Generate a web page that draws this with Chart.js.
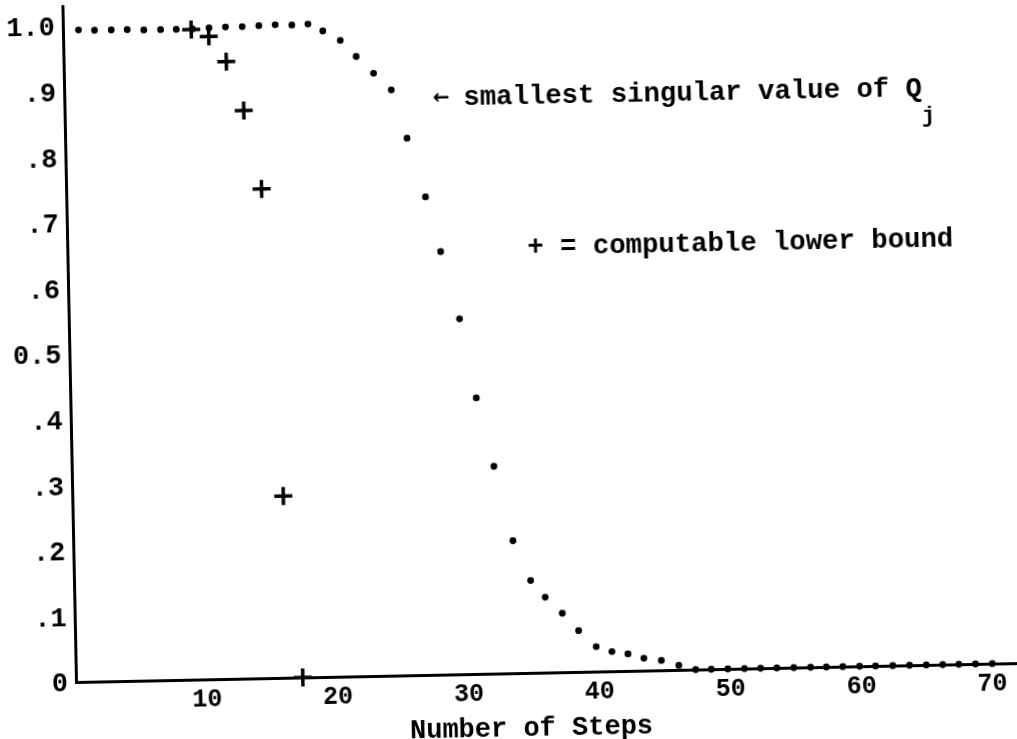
<!DOCTYPE html>
<html>
<head>
<meta charset="utf-8">
<script src="https://cdn.jsdelivr.net/npm/chart.js@4.4.1/dist/chart.umd.min.js"></script>
<style>
  html, body { margin: 0; padding: 0; background: #fff; overflow: hidden; width: 1017px; height: 739px; }
  #wrap { position: absolute; left: 0; top: -6px; width: 1040px; height: 786px;
          transform-origin: 76px 688px; transform: rotate(-1.15deg); }
</style>
</head>
<body>
<div id="wrap"><canvas id="c" width="1040" height="786"></canvas></div>
<script>
// ---- data ----
const sigmaSteps = [1.19, 2.41, 3.69, 4.91, 6.18, 7.46, 8.66, 9.90, 11.16, 12.42, 13.70, 14.97, 16.22, 17.49, 18.72,
  19.85, 21.17, 22.36, 23.66, 24.99, 26.12, 27.44, 28.51, 29.85, 31.01, 32.25, 33.59, 34.88, 35.97, 37.25, 38.47,
  39.79, 40.98, 42.20, 43.41, 44.74, 46.07, 47.35, 48.54, 49.81, 51.08, 52.31, 53.55, 54.85, 56.13, 57.33, 58.59,
  59.87, 61.09, 62.41, 63.69, 64.97, 66.23, 67.46, 68.73, 70.01];
const sigmaValues = [0.994, 0.993, 0.993, 0.993, 0.992, 0.992, 0.992, 0.992, 0.993, 0.994, 0.994, 0.995, 0.996, 0.995, 0.996,
  0.985, 0.970, 0.945, 0.919, 0.893, 0.819, 0.729, 0.645, 0.542, 0.421, 0.316, 0.202, 0.141, 0.115, 0.090, 0.063,
  0.038, 0.030, 0.026, 0.019, 0.015, 0.007, 0, 0, 0, 0, 0, 0, 0, 0, 0, 0,
  0, 0, 0, 0, 0, 0, 0, 0, 0];
const boundSteps = [9.80, 11.13, 12.43, 13.69, 14.93, 16.12, 17.33];
const boundValues = [0.991, 0.980, 0.941, 0.866, 0.746, 0.277, 0.0];
const xTickValues = [10, 20, 30, 40, 50, 60, 70];
const xTickLabels = ['10', '20', '30', '40', '50', '60', '70'];
const yTickValues = [0, 0.1, 0.2, 0.3, 0.4, 0.5, 0.6, 0.7, 0.8, 0.9, 1.0];
const yTickLabels = ['0', '.1', '.2', '.3', '.4', '0.5', '.6', '.7', '.8', '.9', '1.0'];
const xTitle = 'Number of Steps';
const note1 = 'smallest singular value of Q';
const note1Sub = 'j';
const note2 = '+ = computable lower bound';

const toPts = (xs, ys) => xs.map((x, i) => ({ x: x, y: ys[i] }));
const MONO = '"Liberation Mono", "Courier New", monospace';

const textPlugin = {
  id: 'notes',
  afterDraw(chart) {
    const { ctx, chartArea } = chart;
    const ox = chartArea.left, oy = chartArea.bottom;
    ctx.save();
    ctx.fillStyle = '#000';
    ctx.textAlign = 'center';
    ctx.textBaseline = 'middle';
    ctx.font = 'bold 20px "DejaVu Sans"';
    ctx.fillText('\u2190', ox + 377, oy - 576.5);
    ctx.textAlign = 'left';
    ctx.textBaseline = 'alphabetic';
    ctx.font = 'bold 27.3px ' + MONO;
    ctx.fillText(note1, ox + 399, oy - 569);
    ctx.fillText(note2, ox + 460, oy - 418);
    ctx.font = 'bold 27px ' + MONO;
    ctx.fillText(xTitle, ox + 333, oy + 62.5);
    ctx.font = 'bold 22px ' + MONO;
    ctx.fillText(note1Sub, ox + 857, oy - 543);
    ctx.restore();
  }
};

new Chart(document.getElementById('c'), {
  type: 'scatter',
  data: {
    datasets: [
      {
        label: 'computable lower bound',
        data: toPts(boundSteps, boundValues),
        pointStyle: 'cross',
        pointRadius: 9,
        pointBorderWidth: 3.5,
        borderColor: '#000',
        backgroundColor: '#000',
        showLine: false,
        clip: false
      },
      {
        label: 'smallest singular value of Qj',
        data: toPts(sigmaSteps, sigmaValues),
        pointStyle: 'circle',
        pointRadius: 3.4,
        pointBorderWidth: 0,
        backgroundColor: '#000',
        borderColor: '#000',
        showLine: false,
        clip: false
      }
    ]
  },
  options: {
    responsive: false,
    animation: false,
    events: [],
    layout: { padding: { left: 0, right: 15, top: 7, bottom: 0 } },
    plugins: { legend: { display: false }, tooltip: { enabled: false } },
    scales: {
      x: {
        type: 'linear',
        min: 0,
        max: 72.5,
        grid: { display: false, drawTicks: false },
        border: { display: true, color: '#000', width: 3 },
        afterBuildTicks: s => { s.ticks = xTickValues.map(v => ({ value: v })); },
        afterFit: s => { s.height = 98; s.paddingLeft = 0; s.paddingRight = 0; },
        ticks: {
          color: '#000',
          padding: 6,
          autoSkip: false,
          maxRotation: 0,
          font: { family: MONO, size: 25, weight: 'bold' },
          callback: (v, i) => xTickLabels[i]
        }
      },
      y: {
        type: 'linear',
        min: 0,
        max: 1.03,
        grid: { display: false, drawTicks: false },
        border: { display: true, color: '#000', width: 3 },
        afterBuildTicks: s => { s.ticks = yTickValues.map(v => ({ value: v })); },
        afterFit: s => { s.width = 76; s.paddingTop = 0; s.paddingBottom = 0; },
        ticks: {
          color: '#000',
          padding: 8,
          labelOffset: 2.5,
          autoSkip: false,
          font: { family: MONO, size: 27, weight: 'bold' },
          callback: (v, i) => yTickLabels[i]
        }
      }
    }
  },
  plugins: [textPlugin]
});
</script>
</body>
</html>
